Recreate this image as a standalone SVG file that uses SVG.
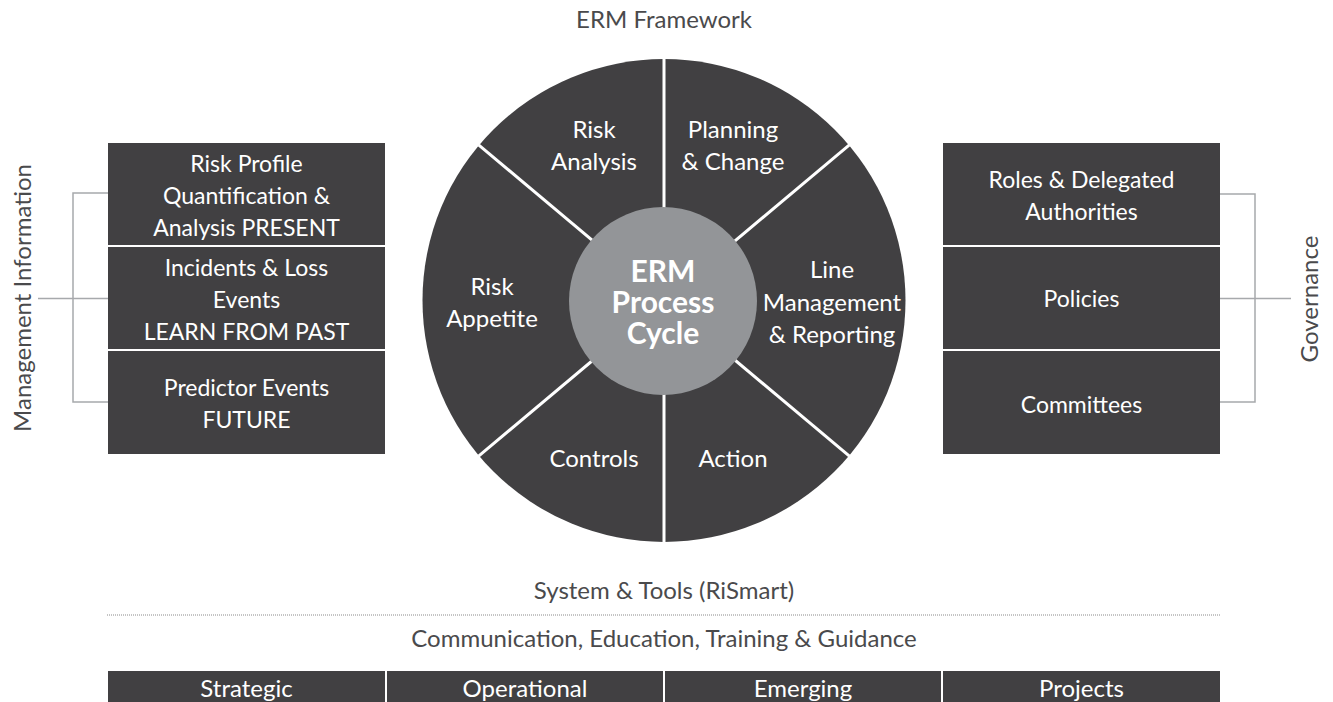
<svg xmlns="http://www.w3.org/2000/svg" width="1333" height="702" viewBox="0 0 1333 702">
<style>
.box{fill:#414042}
.wt{fill:#ffffff;font-family:Lato,"Open Sans","Liberation Sans",sans-serif;font-size:24px;text-anchor:middle}
.bt{font-size:23px}
.gt{fill:#4a4a4c;font-family:Lato,"Open Sans","Liberation Sans",sans-serif;font-size:24px;text-anchor:middle}
.br{stroke:#a7a9ac;stroke-width:1.5;fill:none}
.sp{stroke:#ffffff;stroke-width:3}
</style>
<rect width="1333" height="702" fill="#ffffff"/>
<text id="title" class="gt" x="664" y="28">ERM Framework</text>

<g id="wheel">
  <circle cx="664" cy="300.5" r="241.5" fill="#414042"/>
  <g id="spokes">
    <line class="sp" x1="664" y1="59" x2="664" y2="542"/>
    <line class="sp" x1="664" y1="300.5" x2="478.6" y2="144.9"/>
    <line class="sp" x1="664" y1="300.5" x2="849.4" y2="144.9"/>
    <line class="sp" x1="664" y1="300.5" x2="478.6" y2="456.1"/>
    <line class="sp" x1="664" y1="300.5" x2="849.4" y2="456.1"/>
  </g>
  <g id="seg-risk-analysis"><text class="wt"><tspan x="594" y="138">Risk</tspan><tspan x="594" y="170">Analysis</tspan></text></g>
  <g id="seg-planning"><text class="wt"><tspan x="733" y="138">Planning</tspan><tspan x="733" y="170">&amp; Change</tspan></text></g>
  <g id="seg-risk-appetite"><text class="wt"><tspan x="492" y="295">Risk</tspan><tspan x="492" y="327">Appetite</tspan></text></g>
  <g id="seg-line-mgmt"><text class="wt"><tspan x="832" y="278">Line</tspan><tspan x="832" y="311">Management</tspan><tspan x="832" y="343">&amp; Reporting</tspan></text></g>
  <g id="seg-controls"><text class="wt" x="594" y="467">Controls</text></g>
  <g id="seg-action"><text class="wt" x="733" y="467">Action</text></g>
  <g id="hub">
    <circle cx="663" cy="301" r="94" fill="#939598"/>
    <text class="wt" style="font-weight:bold;font-size:30px"><tspan x="663" y="282">ERM</tspan><tspan x="663" y="313">Process</tspan><tspan x="663" y="344">Cycle</tspan></text>
  </g>
</g>

<g id="mi-present"><rect class="box" x="108" y="143" width="277" height="102"/>
  <text class="wt bt"><tspan x="246.5" y="172">Risk Profile</tspan><tspan x="246.5" y="204">Quantification &amp;</tspan><tspan x="246.5" y="236">Analysis PRESENT</tspan></text></g>
<g id="mi-past"><rect class="box" x="108" y="247" width="277" height="102"/>
  <text class="wt bt"><tspan x="246.5" y="276">Incidents &amp; Loss</tspan><tspan x="246.5" y="308">Events</tspan><tspan x="246.5" y="340">LEARN FROM PAST</tspan></text></g>
<g id="mi-future"><rect class="box" x="108" y="351" width="277" height="103"/>
  <text class="wt bt"><tspan x="246.5" y="396">Predictor Events</tspan><tspan x="246.5" y="428">FUTURE</tspan></text></g>

<g id="gov-roles"><rect class="box" x="943" y="143" width="277" height="102"/>
  <text class="wt bt"><tspan x="1081.5" y="188">Roles &amp; Delegated</tspan><tspan x="1081.5" y="220">Authorities</tspan></text></g>
<g id="gov-policies"><rect class="box" x="943" y="247" width="277" height="102"/>
  <text class="wt bt" x="1081.5" y="307">Policies</text></g>
<g id="gov-committees"><rect class="box" x="943" y="351" width="277" height="103"/>
  <text class="wt bt" x="1081.5" y="413">Committees</text></g>

<g id="connectors">
  <path class="br" d="M108 193 H73 V402 H108 M108 298.5 H38"/>
  <path class="br" d="M1220 194 H1255 V402 H1220 M1220 298.5 H1291"/>
</g>

<g id="label-mi"><text class="gt" transform="translate(31 298) rotate(-90)" x="0" y="0">Management Information</text></g>
<g id="label-gov"><text class="gt" transform="translate(1318 299) rotate(-90)" x="0" y="0">Governance</text></g>

<text id="systems" class="gt" x="664" y="599">System &amp; Tools (RiSmart)</text>
<line x1="107" y1="615" x2="1221" y2="615" stroke="#8a8a8a" stroke-width="1" stroke-dasharray="1 1"/>
<text id="comms" class="gt" x="664" y="647">Communication, Education, Training &amp; Guidance</text>

<g id="bar-strategic"><rect class="box" x="108" y="671" width="277" height="31"/><text class="wt" x="246.5" y="697">Strategic</text></g>
<g id="bar-operational"><rect class="box" x="387" y="671" width="276" height="31"/><text class="wt" x="525" y="697">Operational</text></g>
<g id="bar-emerging"><rect class="box" x="665" y="671" width="276" height="31"/><text class="wt" x="803" y="697">Emerging</text></g>
<g id="bar-projects"><rect class="box" x="943" y="671" width="277" height="31"/><text class="wt" x="1081.5" y="697">Projects</text></g>
</svg>
